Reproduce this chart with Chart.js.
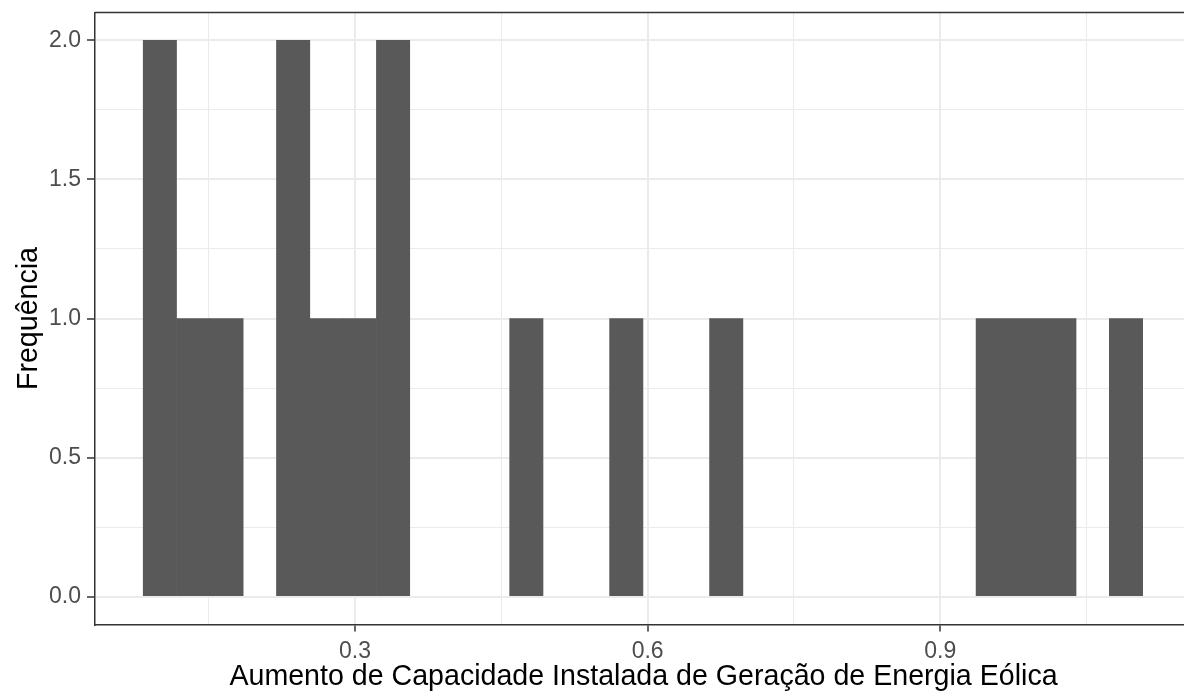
<!DOCTYPE html>
<html lang="pt">
<head>
<meta charset="utf-8"/>
<title>Histograma - Energia Eólica</title>
<style>
  body, html { margin: 0; padding: 0; background: #fff; overflow: hidden; }
  #wrap { width: 1184px; height: 700px; overflow: hidden; }
  canvas { display: block; }
</style>
</head>
<body>
<div id="wrap"><canvas id="chart" width="1200" height="700"></canvas></div>
<script src="https://cdn.jsdelivr.net/npm/chart.js"></script>
<script>
// histogram bins (centers) and counts
const binCenters = [0.1, 0.13415, 0.1683, 0.20245, 0.2366, 0.27075, 0.3049, 0.33905, 0.3732, 0.40735,
  0.4415, 0.47565, 0.5098, 0.54395, 0.5781, 0.61225, 0.6464, 0.68055, 0.7147, 0.74885,
  0.783, 0.81715, 0.8513, 0.88545, 0.9196, 0.95375, 0.9879, 1.02205, 1.0562, 1.09035];
const binCounts = [2, 1, 1, 0, 2, 1, 1, 2, 0, 0,
  0, 1, 0, 0, 1, 0, 0, 1, 0, 0,
  0, 0, 0, 0, 0, 1, 1, 1, 0, 1];

// axis ticks (major ones carry a label, minor ones only a grid line)
const xTicks = [0.15, 0.3, 0.45, 0.6, 0.75, 0.9, 1.05];
const xTickLabels = ['', '0.3', '', '0.6', '', '0.9', ''];
const yTicks = [0, 0.25, 0.5, 0.75, 1, 1.25, 1.5, 1.75, 2];
const yTickLabels = ['0.0', '', '0.5', '', '1.0', '', '1.5', '', '2.0'];

const xTitle = 'Aumento de Capacidade Instalada de Geração de Energia Eólica';
const yTitle = 'Frequência';

const FONT = "'Liberation Sans', Arial, sans-serif";

// ggplot draws a full panel border, chart.js only gives left/bottom
const panelTop = {
  id: 'panelTop',
  afterDraw(chart) {
    const { ctx, chartArea: a } = chart;
    ctx.save();
    ctx.strokeStyle = '#333333';
    ctx.lineWidth = 1.5;
    ctx.beginPath();
    ctx.moveTo(a.left, a.top);
    ctx.lineTo(a.right, a.top);
    ctx.stroke();
    ctx.restore();
  }
};

new Chart(document.getElementById('chart').getContext('2d'), {
  type: 'bar',
  data: {
    datasets: [{
      data: binCenters.map((c, i) => ({ x: c, y: binCounts[i] })),
      // empty bins stay invisible (otherwise the bar inflate leaves a hairline)
      backgroundColor: c => (c.raw && c.raw.y > 0) ? '#595959' : 'rgba(0,0,0,0)',
      borderWidth: 0,
      barPercentage: 1,
      categoryPercentage: 1
    }]
  },
  options: {
    responsive: false,
    devicePixelRatio: 1,
    animation: false,
    layout: { padding: { top: 12.5, right: 8, left: 0, bottom: 0 } },
    plugins: { legend: { display: false }, tooltip: { enabled: false } },
    scales: {
      x: {
        type: 'linear',
        offset: false,
        min: 0.0335,
        max: 1.158,
        afterBuildTicks: s => { s.ticks = xTicks.map(v => ({ value: v })); },
        afterFit: s => { s.height = 75.5; s.paddingLeft = 0; s.paddingRight = 0; },
        grid: {
          offset: false,
          color: '#EBEBEB',
          lineWidth: c => xTickLabels[c.index] ? 2 : 1,
          tickColor: c => xTickLabels[c.index] ? '#333333' : 'rgba(0,0,0,0)',
          tickLength: 7,
          tickWidth: 1.5
        },
        border: { display: true, color: '#333333', width: 1.5 },
        ticks: {
          autoSkip: false,
          maxRotation: 0,
          padding: 6,
          color: '#4D4D4D',
          font: { family: FONT, size: 23 },
          callback: (v, i) => xTickLabels[i]
        },
        title: {
          display: true,
          text: xTitle,
          color: '#000',
          font: { family: FONT, size: 28.6 },
          padding: { top: 0, bottom: 6 }
        }
      },
      y: {
        min: -0.1,
        max: 2.1,
        afterBuildTicks: s => { s.ticks = yTicks.map(v => ({ value: v })); },
        afterFit: s => { s.width = 95; s.paddingTop = 0; s.paddingBottom = 0; },
        grid: {
          color: '#EBEBEB',
          lineWidth: c => yTickLabels[c.index] ? 2 : 1,
          tickColor: c => yTickLabels[c.index] ? '#333333' : 'rgba(0,0,0,0)',
          tickLength: 8,
          tickWidth: 1.5
        },
        border: { display: true, color: '#333333', width: 1.5 },
        ticks: {
          autoSkip: false,
          padding: 6,
          color: '#4D4D4D',
          font: { family: FONT, size: 23 },
          callback: (v, i) => yTickLabels[i]
        },
        title: {
          display: true,
          text: yTitle,
          color: '#000',
          font: { family: FONT, size: 28.6 },
          padding: { top: 12, bottom: 0 }
        }
      }
    }
  },
  plugins: [panelTop]
});
</script>
</body>
</html>
